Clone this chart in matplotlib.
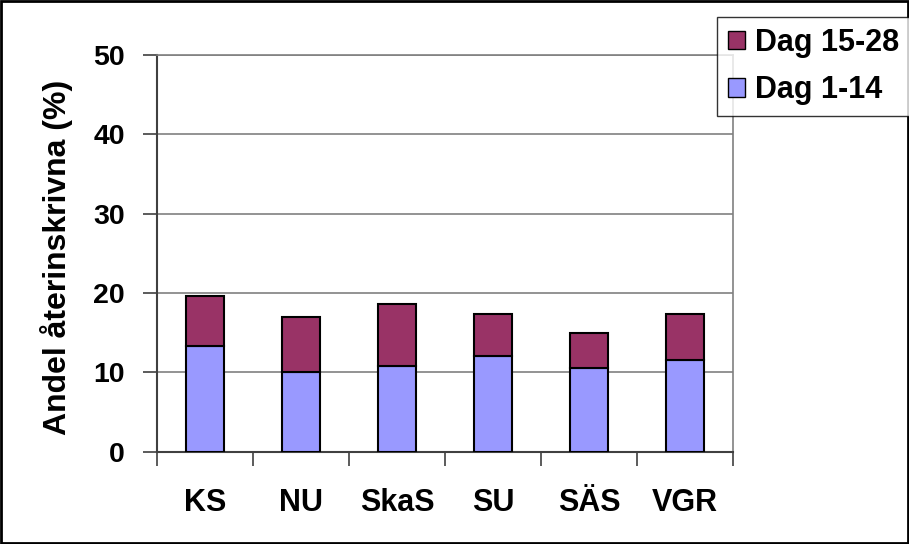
import numpy as np
import matplotlib.pyplot as plt

plt.rcParams['font.family'] = ['Liberation Sans', 'DejaVu Sans']
plt.rcParams['font.weight'] = 'bold'

# data
sites = ['KS', 'NU', 'SkaS', 'SU', 'SÄS', 'VGR']
dag_1_14 = [13.3, 10.0, 10.8, 12.0, 10.5, 11.5]
totals = [19.65, 16.9, 18.6, 17.4, 14.9, 17.4]
dag_15_28 = [t - a for t, a in zip(totals, dag_1_14)]

fig = plt.figure(figsize=(9.09, 5.44), dpi=100)
ax = fig.add_axes([157 / 909, 1 - 451.5 / 544, (733 - 157) / 909, (451.5 - 55) / 544])

x = np.arange(len(sites))
ax.bar(x, dag_1_14, width=0.4, color='#9999ff', edgecolor='black', linewidth=1.5,
       label='Dag 1-14', zorder=3)
ax.bar(x, dag_15_28, width=0.4, bottom=dag_1_14, color='#993366', edgecolor='black',
       linewidth=1.5, label='Dag 15-28', zorder=3)

ax.set_xlim(-0.5, len(sites) - 0.5)
ax.set_ylim(0, 50)
ax.set_yticks(range(0, 51, 10))
ax.yaxis.grid(True, color='#808080', linewidth=1.2, zorder=0)
ax.set_xticks(x)
ax.set_xticklabels(sites)
ax.set_xticks(np.arange(-0.5, len(sites)), minor=True)
ax.tick_params(axis='x', which='major', length=0, pad=26, labelsize=22)
ax.tick_params(axis='x', which='minor', length=10, width=1.2, color='#404040')
ax.tick_params(axis='y', length=10, width=1.2, color='#404040', labelsize=20.5, pad=13)
ax.set_ylabel('Andel återinskrivna (%)', fontsize=23, fontweight='bold', labelpad=13)
ax.yaxis.set_label_coords(-0.145, 0.49)

for s in ['left', 'bottom']:
    ax.spines[s].set_color('#404040')
    ax.spines[s].set_linewidth(1.5)
for s in ['top', 'right']:
    ax.spines[s].set_color('#808080')
    ax.spines[s].set_linewidth(1.2)

handles, labels = ax.get_legend_handles_labels()
leg = fig.legend(handles[::-1], labels[::-1], loc='upper left',
                 bbox_to_anchor=(717 / 909, 1 - 17 / 544), fontsize=22,
                 frameon=True, fancybox=False, edgecolor='black',
                 handlelength=0.55, handleheight=0.55, handletextpad=0.35,
                 borderpad=0.35, labelspacing=0.58, borderaxespad=0)
leg.get_frame().set_linewidth(1.0)
for p in leg.get_patches():
    p.set_linewidth(1.0)

fig.patches.append(plt.Rectangle((0.001, 0.001), 0.998, 0.997, transform=fig.transFigure,
                                 fill=False, edgecolor='black', linewidth=2))

fig.savefig('out.png', dpi=100)
